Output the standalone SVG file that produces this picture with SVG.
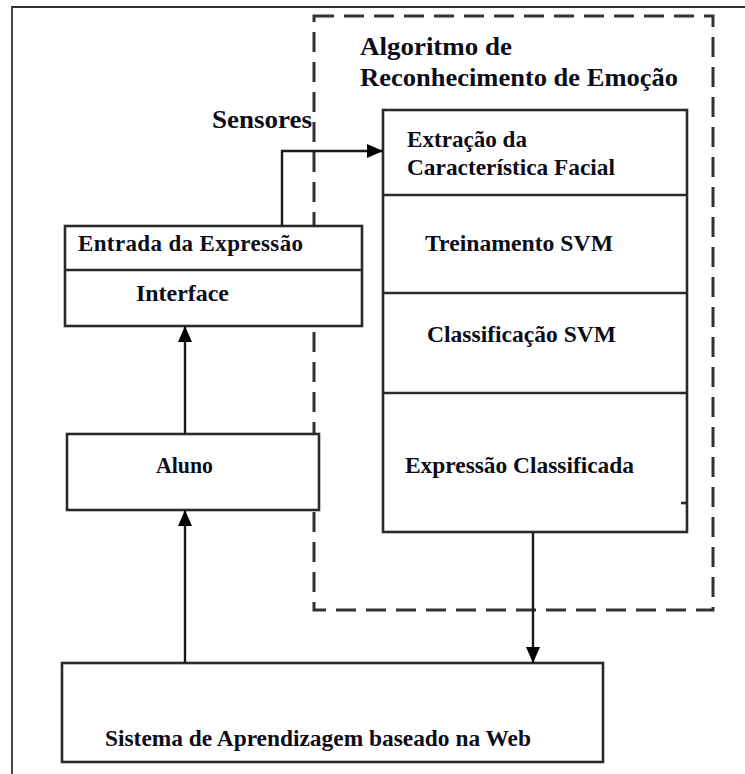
<svg xmlns="http://www.w3.org/2000/svg" width="745" height="774" viewBox="0 0 745 774">
<defs>
<style>
.box{fill:#fff;stroke:#2a2a2a;stroke-width:2.6}
.div{stroke:#2a2a2a;stroke-width:2.6;fill:none}
.ln{stroke:#1a1a1a;stroke-width:2.4;fill:none}
text{font-family:'Liberation Serif','Times New Roman',Times,serif;font-weight:700;fill:#0d0d1a}
.dash{fill:none;stroke:#333;stroke-width:3;stroke-dasharray:20 10}
</style>
<marker id="ah" viewBox="0 0 16 14" refX="16" refY="7" markerWidth="16" markerHeight="14" markerUnits="userSpaceOnUse" orient="auto">
<path d="M0,0 L16,7 L0,14 Z" fill="#000"/>
</marker>
</defs>
<rect width="745" height="774" fill="#fff"/>
<path d="M12,774 V7 H745" fill="none" stroke="#333" stroke-width="1.8"/>

<g id="algoritmo">
<rect class="dash" x="314" y="16" width="399" height="594"/>
<text x="360" y="55" font-size="26" textLength="152" lengthAdjust="spacingAndGlyphs">Algoritmo de</text>
<text x="360" y="86" font-size="26" textLength="318" lengthAdjust="spacingAndGlyphs">Reconhecimento de Emoção</text>
</g>

<g id="sensores">
<text x="212" y="128" font-size="25" textLength="100" lengthAdjust="spacingAndGlyphs">Sensores</text>
</g>

<g id="pipeline" font-size="23">
<rect class="box" x="383" y="110" width="304" height="422"/>
<line class="div" x1="383" y1="195" x2="687" y2="195"/>
<line class="div" x1="383" y1="293" x2="687" y2="293"/>
<line class="div" x1="383" y1="393" x2="687" y2="393"/>
<line class="div" x1="681" y1="503" x2="687" y2="503"/>
<text x="407" y="147" textLength="120" lengthAdjust="spacingAndGlyphs">Extração da</text>
<text x="407" y="175" textLength="208" lengthAdjust="spacingAndGlyphs">Característica Facial</text>
<text x="425" y="251" textLength="188" lengthAdjust="spacingAndGlyphs">Treinamento SVM</text>
<text x="427" y="342" textLength="189" lengthAdjust="spacingAndGlyphs">Classificação SVM</text>
<text x="405" y="473" textLength="229" lengthAdjust="spacingAndGlyphs">Expressão Classificada</text>
</g>

<g id="entrada" font-size="23">
<rect class="box" x="65" y="226" width="297" height="100"/>
<line class="div" x1="65" y1="270" x2="362" y2="270"/>
<text x="78" y="251" textLength="225" lengthAdjust="spacing">Entrada da Expressão</text>
<text x="136" y="301" textLength="93" lengthAdjust="spacingAndGlyphs">Interface</text>
</g>

<g id="aluno" font-size="23">
<rect class="box" x="67" y="434" width="252" height="76"/>
<text x="156" y="473" textLength="57" lengthAdjust="spacingAndGlyphs">Aluno</text>
</g>

<g id="sistema" font-size="23">
<rect class="box" x="62" y="663" width="541" height="99"/>
<text x="105" y="746" textLength="426" lengthAdjust="spacingAndGlyphs">Sistema de Aprendizagem baseado na Web</text>
</g>

<g id="connectors">
<path class="ln" d="M282,226 V151 H383" marker-end="url(#ah)"/>
<path class="ln" d="M185,434 V326" marker-end="url(#ah)"/>
<path class="ln" d="M185,663 V510" marker-end="url(#ah)"/>
<path class="ln" d="M533,532 V663" marker-end="url(#ah)"/>
</g>
</svg>
